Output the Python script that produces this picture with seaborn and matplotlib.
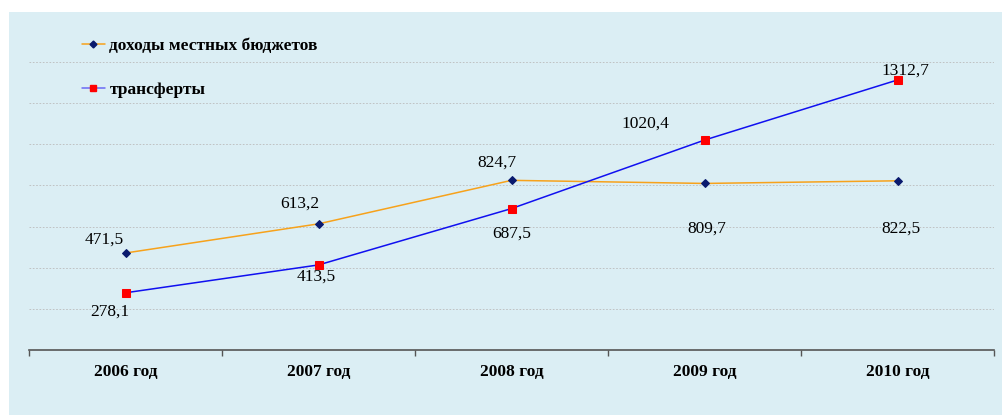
import numpy as np
import pandas as pd
import matplotlib
matplotlib.use("Agg")
import matplotlib.pyplot as plt
import seaborn as sns
from matplotlib.lines import Line2D
from matplotlib.patches import Rectangle

# данные
years = ["2006 год", "2007 год", "2008 год", "2009 год", "2010 год"]
dohody = [471.5, 613.2, 824.7, 809.7, 822.5]
transfery = [278.1, 413.5, 687.5, 1020.4, 1312.7]
dohody_lbl = ["471,5", "613,2", "824,7", "809,7", "822,5"]
transfery_lbl = ["278,1", "413,5", "687,5", "1020,4", "1312,7"]

df = pd.DataFrame({"year": years, "dohody": dohody, "transfery": transfery})
df["x"] = np.arange(len(years))

sns.set_style("white")
plt.rcParams["font.family"] = ["Liberation Serif", "DejaVu Serif"]
plt.rcParams["text.color"] = "black"

bg = "#DBEEF4"
fig = plt.figure(figsize=(10.02, 4.15), dpi=100)
fig.patches.append(Rectangle((9 / 1002, 0), 1 - 9 / 1002, 1 - 12 / 415,
                             transform=fig.transFigure, facecolor=bg,
                             edgecolor="none", zorder=-10))
ax = fig.add_axes([29 / 1002, 65 / 415, 965 / 1002, 288 / 415])
ax.set_zorder(5)
ax.set_facecolor("none")

sns.lineplot(data=df, x="x", y="dohody", ax=ax, color="#F7A21B", lw=1.1,
             marker="D", markersize=4, markerfacecolor="#0A1A6E",
             markeredgecolor="#0A1A6E", zorder=3)
sns.lineplot(data=df, x="x", y="transfery", ax=ax, color="#1010F0", lw=1.1,
             marker="s", markersize=5.2, markerfacecolor="#FF0000",
             markeredgecolor="#FF0000", zorder=3)

ax.set_xlim(-0.5, 4.5)
ax.set_ylim(0, 1400)
ax.set_yticks(np.arange(200, 1401, 200))
ax.yaxis.grid(True, color="#BBBBBB", ls=(0, (2, 2)), lw=0.6)
ax.tick_params(axis="y", left=False, labelleft=False)
for s in ["top", "right", "left"]:
    ax.spines[s].set_visible(False)
ax.spines["bottom"].set_color("#555555")
ax.spines["bottom"].set_linewidth(1.2)

ax.set_xticks(np.arange(-0.5, 4.6, 1))
ax.set_xticklabels([])
ax.tick_params(axis="x", bottom=True, length=4, width=1, color="#555555", direction="out")
for i, yr in enumerate(years):
    ax.text(i, -70, yr, ha="center", va="top", fontsize=12.5, fontweight="bold",
            transform=ax.transData)
ax.set_xlabel("")
ax.set_ylabel("")

# подписи значений (смещения в пикселях)
off_d = [(-21, 13), (-19, 20), (-15, 18), (2, -45), (3, -48)]
off_t = [(-16, -19), (-2, -12), (0, -25), (-59, 16), (8, 9)]
for i in range(len(years)):
    ax.annotate(dohody_lbl[i], (i, dohody[i]), xytext=off_d[i], textcoords="offset pixels",
                ha="center", va="center", fontsize=12.5)
    ax.annotate(transfery_lbl[i], (i, transfery[i]), xytext=off_t[i], textcoords="offset pixels",
                ha="center", va="center", fontsize=12.5)

handles = [
    Line2D([], [], color="#F7A21B", lw=1.1, marker="D", markersize=3.5,
           markerfacecolor="#0A1A6E", markeredgecolor="#0A1A6E"),
    Line2D([], [], color="#6A6AF5", lw=1.1, marker="s", markersize=5,
           markerfacecolor="#FF0000", markeredgecolor="#FF0000"),
]
leg = fig.legend(handles, ["доходы местных бюджетов", "трансферты"],
                 loc="upper left", bbox_to_anchor=(66 / 1002, 1 - 22 / 415),
                 frameon=False, handlelength=1.35, handletextpad=0.25,
                 labelspacing=1.6, prop={"size": 12.5, "weight": "bold"})

fig.savefig("out.png", dpi=100)
